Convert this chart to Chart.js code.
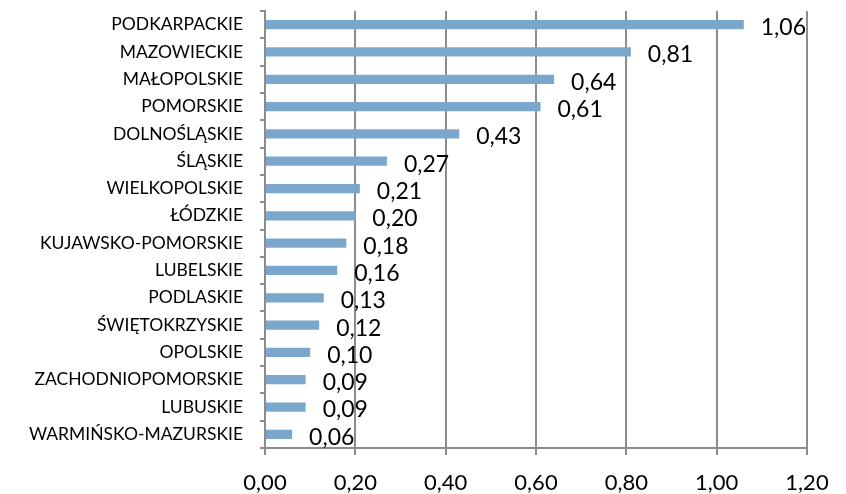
<!DOCTYPE html>
<html>
<head>
<meta charset="utf-8">
<script src="https://cdn.jsdelivr.net/npm/chart.js@4"></script>
<style>
  body { margin: 0; background: #fff; }
  #wrap { width: 846px; height: 494px; }
</style>
</head>
<body>
<div id="wrap"><canvas id="chart"></canvas></div>
<script>
'use strict';

// voivodeships, top to bottom
var regions = ['PODKARPACKIE', 'MAZOWIECKIE', 'MAŁOPOLSKIE', 'POMORSKIE', 'DOLNOŚLĄSKIE',
  'ŚLĄSKIE', 'WIELKOPOLSKIE', 'ŁÓDZKIE', 'KUJAWSKO-POMORSKIE', 'LUBELSKIE', 'PODLASKIE',
  'ŚWIĘTOKRZYSKIE', 'OPOLSKIE', 'ZACHODNIOPOMORSKIE', 'LUBUSKIE', 'WARMIŃSKO-MAZURSKIE'];
var values = [1.06, 0.81, 0.64, 0.61, 0.43, 0.27, 0.21, 0.20, 0.18, 0.16, 0.13, 0.12, 0.10, 0.09, 0.09, 0.06];
var xTicks = [0, 0.2, 0.4, 0.6, 0.8, 1.0, 1.2];

var FONT = 'Lato, "Open Sans", sans-serif';
var GRID = '#8c8c8c';

function fmt(v) {
  return v.toFixed(2).replace('.', ',');
}

//value labels right of each bar
var valueLabels = {
  id: 'valueLabels',
  afterDatasetsDraw: function (chart) {
    var ctx = chart.ctx;
    var meta = chart.getDatasetMeta(0);
    ctx.save();
    ctx.font = '23px ' + FONT;
    ctx.fillStyle = '#000';
    ctx.textAlign = 'left';
    ctx.textBaseline = 'middle';
    meta.data.forEach(function (bar, i) {
      ctx.fillText(fmt(values[i]), bar.x + 17, bar.y + 3);
    });
    ctx.restore();
  }
};

new Chart(document.getElementById('chart'), {
  type: 'bar',
  data: {
    labels: regions,
    datasets: [{
      data: values,
      backgroundColor: '#7ca7cd',
      barPercentage: 0.34,
      categoryPercentage: 1
    }]
  },
  options: {
    indexAxis: 'y',
    responsive: true,
    maintainAspectRatio: false,
    animation: false,
    layout: { padding: { top: 11, right: 39, bottom: 0, left: 0 } },
    plugins: {
      legend: { display: false },
      tooltip: { enabled: false }
    },
    scales: {
      x: {
        min: 0,
        max: 1.2,
        afterBuildTicks: function (scale) {
          scale.ticks = xTicks.map(function (v) { return { value: v }; });
        },
        afterFit: function (scale) {
          scale.height = 46;
          scale.paddingLeft = 0;
          scale.paddingRight = 0;
        },
        grid: { color: GRID, lineWidth: 2, tickLength: 7 },
        border: { color: GRID, width: 2 },
        ticks: {
          padding: 15,
          color: '#000',
          font: { family: FONT, size: 22 },
          maxRotation: 0,
          callback: function (v) { return fmt(v); }
        }
      },
      y: {
        afterFit: function (scale) {
          scale.width = 265;
          scale.paddingTop = 0;
          scale.paddingBottom = 0;
        },
        grid: { offset: true, drawOnChartArea: false, color: GRID, lineWidth: 2, tickLength: 5 },
        border: { color: GRID, width: 2 },
        ticks: {
          padding: 17,
          color: '#000',
          autoSkip: false,
          font: { family: FONT, size: 17.5 }
        }
      }
    }
  },
  plugins: [valueLabels]
});
</script>
</body>
</html>
